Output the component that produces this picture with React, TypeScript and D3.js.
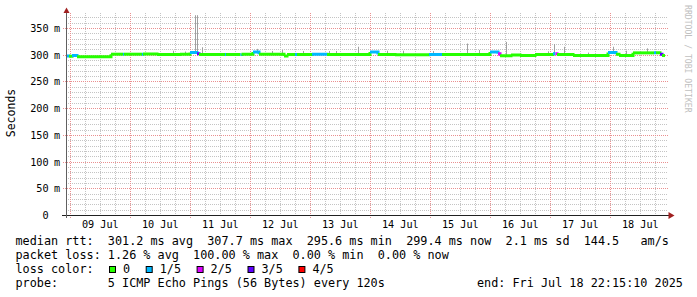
import React from 'react';
import * as d3 from 'd3';

// ---- data ----
const startTime = new Date(2025, 6, 8, 22, 15, 10);
const endTime = new Date(2025, 6, 18, 22, 15, 10);

const yTickValues = [0, 50, 100, 150, 200, 250, 300, 350];
const dayLabels = ['09 Jul', '10 Jul', '11 Jul', '12 Jul', '13 Jul', '14 Jul', '15 Jul', '16 Jul', '17 Jul', '18 Jul'];

// hours since start, median rtt (ms), loss level (0..4 of 5)
const medianHours = [0, 1.2, 2.4, 4.4, 18, 22.8, 23.2, 30.4, 30.8, 36.4, 45.6, 49.6, 52.4, 53.2, 63.6, 64, 69.8, 70.2, 74.8, 77.2, 87.2, 88.4, 91.6, 92.4, 98.4, 104.4, 121.6, 124.8, 131.6, 145.2, 150.4, 169.6, 172.8, 173.6, 178, 181.6, 187.6, 194.8, 195.8, 196.4, 202.8, 216.8, 220, 221.2, 226.8, 235.2, 236, 237.6, 238.4, 239.6];
const medianMs = [297.5, 297, 298.5, 296, 301, 301, 301, 301, 301.5, 300.5, 301, 304, 302, 300.5, 300.5, 300.5, 300.5, 301, 305, 301, 297.5, 300.5, 300.5, 300.5, 301, 300.5, 305, 300.5, 300, 300.5, 300.5, 305, 302, 298, 299.5, 298.5, 300.5, 302, 302, 300.5, 298.5, 304, 301, 298.5, 303.5, 303.5, 303.5, 301, 298.5, 298.5];
const medianLoss = [1, 0, 1, 0, 0, 1, 0, 1, 0, 0, 0, 1, 3, 0, 1, 0, 1, 0, 1, 0, 0, 0, 1, 0, 1, 0, 1, 0, 0, 1, 0, 1, 2, 0, 0, 0, 0, 1, 2, 0, 0, 1, 0, 0, 0, 1, 0, 3, 0, 0];

// smoke spikes: hours since start, max rtt (ms)
const spikeHours = [42.6, 47.6, 51.6, 52.4, 54.2, 76.2, 82.4, 86.3, 94.7, 105.2, 107.9, 116.8, 128.4, 134.8, 146.8, 160.3, 165.2, 176, 192.6, 195, 199, 208.8, 218.7, 223.8, 232.2];
const spikeMs = [307.5, 306, 374, 374, 314, 311, 307, 309, 307, 307, 307, 315, 307.5, 307.5, 307, 321, 309, 324, 306.5, 320, 315, 304, 315, 307.5, 312];

const lossLabels = ['0', '1/5', '2/5', '3/5', '4/5'];
const lossColors = ['#26ff00', '#00b8ff', '#dd00ff', '#5e00ff', '#ff0000'];

const legendRtt = 'median rtt:  301.2 ms avg  307.7 ms max  295.6 ms min  299.4 ms now  2.1 ms sd  144.5   am/s';
const legendLoss = 'packet loss: 1.26 % avg  100.00 % max  0.00 % min  0.00 % now';
const legendColorTitle = 'loss color:';
const legendProbe = 'probe:       5 ICMP Echo Pings (56 Bytes) every 120s';
const legendEnd = 'end: Fri Jul 18 22:15:10 2025';

// ---- layout ----
const W = 697;
const H = 297;
const MONO = '"DejaVu Sans Mono", monospace';
const CW = 7.1; // legend char advance

const hoursToDate = (h: number) => new Date(startTime.getTime() + h * 3600e3);

export default function App() {
  const x = d3.scaleTime().domain([startTime, endTime]).range([66, 666]);
  const y = d3.scaleLinear().domain([0, 380]).range([215, 12]);

  const minorY = d3.range(10, 380, 10).filter((v) => v % 50 !== 0);
  const sixHours = d3.timeHour.every(6)!.range(startTime, endTime).filter((d) => d.getHours() !== 0);
  const midnights = d3.timeDay.range(startTime, endTime);

  const pts = medianHours.map((h, i) => ({ d: hoursToDate(h), v: medianMs[i], l: medianLoss[i] }));
  const line = d3
    .line<{ d: Date; v: number }>()
    .x((p) => x(p.d))
    .y((p) => y(p.v))
    .curve(d3.curveStepAfter);

  const bis = d3.bisector((h: number) => h).right;
  const medianAt = (h: number) => medianMs[Math.max(0, bis(medianHours, h) - 1)];

  // legend loss entries positions
  let cx = 109;
  const lossItems = lossLabels.map((lbl, i) => {
    const item = { sq: cx, tx: cx + 14, lbl, color: lossColors[i] };
    cx = cx + 14 + lbl.length * CW + 15.6;
    return item;
  });

  return (
    <svg width={W} height={H} style={{ position: 'absolute', left: 0, top: 0, background: '#fff' }}>
      <rect x={0} y={0} width={W} height={H} fill="#fff" />
      {/* minor horizontal grid */}
      {minorY.map((v) => (
        <line key={'my' + v} x1={66} x2={668} y1={Math.round(y(v)) + 0.5} y2={Math.round(y(v)) + 0.5} stroke="#c4c4c4" strokeDasharray="1 1" />
      ))}
      {/* minor vertical grid */}
      {sixHours.map((d) => (
        <line key={'mx' + d.getTime()} x1={Math.round(x(d)) + 0.5} x2={Math.round(x(d)) + 0.5} y1={13} y2={215} stroke="#c4c4c4" strokeDasharray="1 1" />
      ))}
      {/* major horizontal grid */}
      {yTickValues.filter((v) => v > 0).map((v) => (
        <line key={'My' + v} x1={63} x2={668} y1={Math.round(y(v)) + 0.5} y2={Math.round(y(v)) + 0.5} stroke="#ea9090" strokeDasharray="1 1" />
      ))}
      {/* major vertical grid */}
      {midnights.map((d) => (
        <line key={'Mx' + d.getTime()} x1={Math.round(x(d)) + 0.5} x2={Math.round(x(d)) + 0.5} y1={13} y2={218} stroke="#ea9090" strokeDasharray="1 1" />
      ))}

      {/* smoke spikes */}
      {spikeHours.map((h, i) => {
        const xx = Math.round(x(hoursToDate(h))) + 0.5;
        return <line key={'s' + i} x1={xx} x2={xx} y1={y(medianAt(h))} y2={y(spikeMs[i])} stroke="#a0a0a0" strokeWidth={1} />;
      })}

      {/* median line, coloured by loss */}
      {pts.slice(0, -1).map((p, i) => (
        <path key={'m' + i} d={line([p, pts[i + 1]]) || ''} fill="none" stroke={lossColors[p.l]} strokeWidth={3} />
      ))}

      {/* axes */}
      <line x1={62} x2={670} y1={215.5} y2={215.5} stroke="#202020" />
      <line x1={66.5} x2={66.5} y1={218} y2={11} stroke="#606060" />
      <polygon points="63.5,13 69.5,13 66.5,7.5" fill="#a02020" />
      <polygon points="668.5,212 668.5,219 674.5,215.5" fill="#a02020" />

      {/* y tick labels */}
      {yTickValues.map((v) => (
        <g key={'yl' + v} fontFamily={MONO} fontSize={10.2} fill="#000">
          <text x={48.6} y={y(v) + 4} textAnchor="end">{v}</text>
          {v !== 0 && <text x={54} y={y(v) + 4}>m</text>}
        </g>
      ))}
      {/* x day labels */}
      {midnights.map((d, i) => (
        <text key={'xl' + i} x={x(d3.timeHour.offset(d, 12))} y={228} textAnchor="middle" fontFamily={MONO} fontSize={10.2} fill="#000">
          {dayLabels[i]}
        </text>
      ))}

      {/* y axis title */}
      <text transform="translate(14.5,113) rotate(-90)" textAnchor="middle" fontFamily={MONO} fontSize={11.5} fill="#000">
        Seconds
      </text>
      {/* watermark */}
      <text transform="translate(685,5) rotate(90)" fontFamily={MONO} fontSize={8.15} fill="#c0c0c0">
        RRDTOOL / TOBI OETIKER
      </text>

      {/* legend */}
      <g fontFamily={MONO} fontSize={11.8} fill="#000" style={{ whiteSpace: 'pre' }}>
        <text x={15.5} y={244.5} xmlSpace="preserve">{legendRtt}</text>
        <text x={15.5} y={258.5} xmlSpace="preserve">{legendLoss}</text>
        <text x={15.5} y={272.5} xmlSpace="preserve">{legendColorTitle}</text>
        {lossItems.map((it) => (
          <g key={'li' + it.lbl}>
            <rect x={it.sq + 0.5} y={266.5} width={6} height={6} fill={it.color} stroke="#000" strokeWidth={1} />
            <text x={it.tx} y={272.5}>{it.lbl}</text>
          </g>
        ))}
        <text x={15.5} y={286.5} xmlSpace="preserve">{legendProbe}</text>
        <text x={15.5 + 65 * CW} y={286.5} xmlSpace="preserve">{legendEnd}</text>
      </g>
    </svg>
  );
}
